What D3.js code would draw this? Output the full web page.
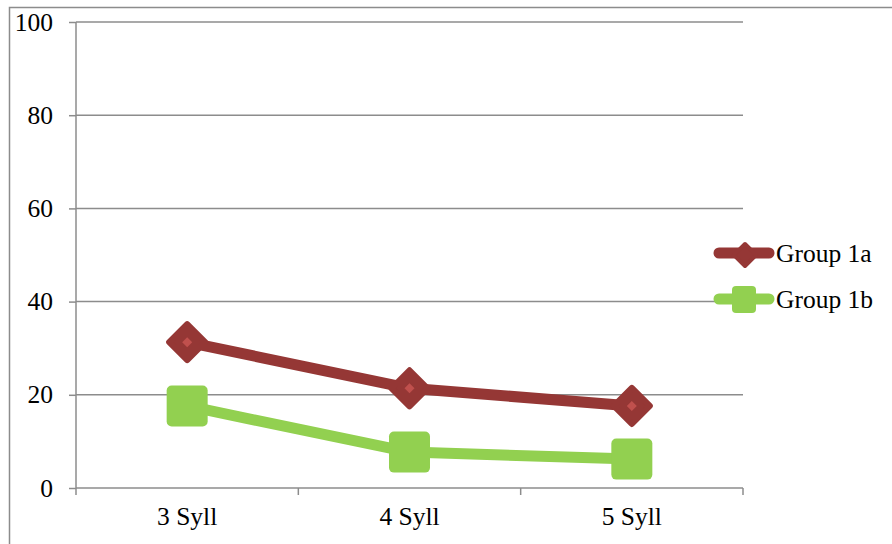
<!DOCTYPE html>
<html>
<head>
<meta charset="utf-8">
<script src="https://cdn.jsdelivr.net/npm/d3@7"></script>
<style>
  html, body { margin: 0; padding: 0; background: #fff; }
  svg { display: block; }
</style>
</head>
<body>
<svg id="chart" width="892" height="544"></svg>
<script>
// Chart data
const categories = ["3 Syll", "4 Syll", "5 Syll"];
const group1a = [31.3, 21.4, 17.6];
const group1b = [17.6, 7.7, 6.2];
const yTicks = [0, 20, 40, 60, 80, 100];
const seriesNames = ["Group 1a", "Group 1b"];

const FONT = '"Liberation Serif", "Times New Roman", serif';
const FS = "25.5px";
const plot = { left: 76, right: 743, top: 22, bottom: 488 };
const gridColor = "#8c8c8c";

const svg = d3.select("#chart")
  .style("font-family", FONT)
  .style("font-size", FS);

// Outer chart frame (extends past the visible area on the right and bottom)
svg.append("rect")
  .attr("x", 9.5).attr("y", 7.5)
  .attr("width", 1000).attr("height", 1000)
  .attr("fill", "none").attr("stroke", gridColor).attr("stroke-width", 1.5);

const x = d3.scaleBand().domain(categories).range([plot.left, plot.right]).paddingInner(0).paddingOuter(0);
const y = d3.scaleLinear().domain([0, 100]).range([plot.bottom, plot.top]);

// Horizontal gridlines
svg.append("g")
  .selectAll("line")
  .data(yTicks.filter(d => d !== 0))
  .join("line")
  .attr("x1", plot.left).attr("x2", plot.right)
  .attr("y1", d => y(d)).attr("y2", d => y(d))
  .attr("stroke", gridColor).attr("stroke-width", 1.5);

// Y axis
const yAxis = svg.append("g")
  .attr("transform", `translate(${plot.left},0)`)
  .call(d3.axisLeft(y).tickValues(yTicks).tickSize(7).tickPadding(16).tickFormat(d3.format("d")));
yAxis.attr("font-family", null).attr("font-size", null);
yAxis.select(".domain").attr("stroke", gridColor).attr("stroke-width", 1.5)
  .attr("d", `M0,${plot.top}V${plot.bottom}`);
yAxis.selectAll(".tick line").attr("stroke", gridColor).attr("stroke-width", 1.5);
yAxis.selectAll(".tick text").attr("fill", "#000");

// X axis with tick marks at category boundaries
const xAxisG = svg.append("g").attr("transform", `translate(0,${plot.bottom})`);
xAxisG.append("line")
  .attr("x1", plot.left).attr("x2", plot.right)
  .attr("y1", 0).attr("y2", 0)
  .attr("stroke", gridColor).attr("stroke-width", 1.5);
const boundaries = categories.map(c => x(c)).concat([x(categories[categories.length - 1]) + x.bandwidth()]);
xAxisG.selectAll("line.tick")
  .data(boundaries)
  .join("line").attr("class", "tick")
  .attr("x1", d => d).attr("x2", d => d)
  .attr("y1", 0).attr("y2", 7)
  .attr("stroke", gridColor).attr("stroke-width", 1.5);
xAxisG.selectAll("text.cat")
  .data(categories)
  .join("text").attr("class", "cat")
  .attr("x", d => x(d) + x.bandwidth() / 2)
  .attr("y", 37)
  .attr("text-anchor", "middle")
  .text(d => d);

const cx = (d, i) => x(categories[i]) + x.bandwidth() / 2;
const line = d3.line().x((d, i) => cx(d, i)).y(d => y(d));

const red = "#953735", redLight = "#c0504d", green = "#92d050";

// Group 1b series
svg.append("path").datum(group1b)
  .attr("d", line).attr("fill", "none")
  .attr("stroke", green).attr("stroke-width", 11).attr("stroke-linejoin", "round");
svg.append("g").selectAll("rect")
  .data(group1b)
  .join("rect")
  .attr("x", (d, i) => cx(d, i) - 20.5).attr("y", d => y(d) - 20.5)
  .attr("width", 41).attr("height", 41).attr("rx", 5)
  .attr("fill", green);

// Group 1a series
svg.append("path").datum(group1a)
  .attr("d", line).attr("fill", "none")
  .attr("stroke", red).attr("stroke-width", 11).attr("stroke-linejoin", "round");
const diamond = (s) => `M0,${-s}L${s},0L0,${s}L${-s},0Z`;
const dm = svg.append("g").selectAll("g")
  .data(group1a)
  .join("g")
  .attr("transform", (d, i) => `translate(${cx(d, i)},${y(d)})`);
dm.append("path").attr("d", diamond(18))
  .attr("fill", red).attr("stroke", red).attr("stroke-width", 6).attr("stroke-linejoin", "round");
dm.append("path").attr("d", diamond(5)).attr("fill", redLight);

// Legend
const legend = svg.append("g");
const legendRows = [
  { name: seriesNames[0], color: red, y: 253 },
  { name: seriesNames[1], color: green, y: 299 }
];
legendRows.forEach((r, k) => {
  legend.append("line")
    .attr("x1", 719).attr("x2", 769).attr("y1", r.y).attr("y2", r.y)
    .attr("stroke", r.color).attr("stroke-width", 11).attr("stroke-linecap", "round");
  if (k === 0) {
    legend.append("path").attr("d", diamond(11))
      .attr("transform", `translate(745,${r.y + 2})`)
      .attr("fill", r.color).attr("stroke", r.color).attr("stroke-width", 4).attr("stroke-linejoin", "round");
  } else {
    legend.append("rect")
      .attr("x", 732).attr("y", r.y - 13).attr("width", 24).attr("height", 27).attr("rx", 4)
      .attr("fill", r.color);
  }
  legend.append("text")
    .attr("x", 776).attr("y", r.y + 9)
    .text(r.name);
});
</script>
</body>
</html>
